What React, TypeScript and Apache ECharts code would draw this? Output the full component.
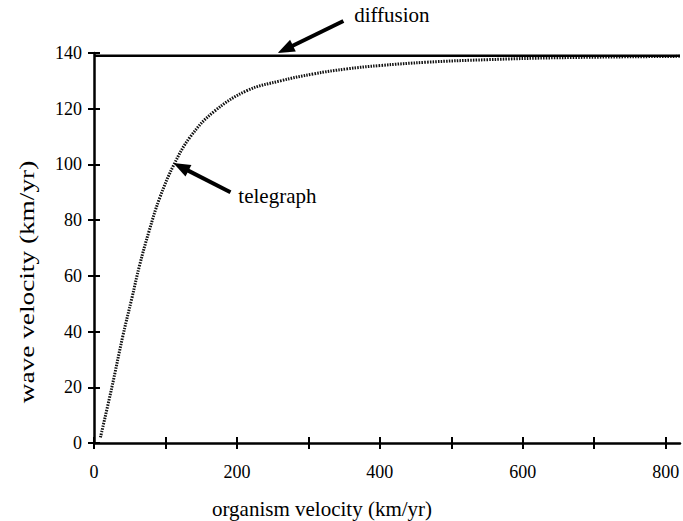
import React, { useEffect, useRef } from "react";
import * as echarts from "echarts";

const xTicks = [0, 100, 200, 300, 400, 500, 600, 700, 800];
const xLabels = [0, 200, 400, 600, 800];
const yTicks = [0, 20, 40, 60, 80, 100, 120, 140];
const diffusionValue = 139;
const telegraphX = [9, 25, 40, 53, 64, 77, 92, 112, 135, 168, 214, 261, 307, 354, 400, 466, 550, 650, 820];
const telegraphY = [2, 20, 38, 52, 64, 76, 88, 100, 110, 119, 126.5, 130, 132.5, 134.3, 135.5, 136.7, 137.6, 138.3, 138.8];
const xMax = 820;
const yMax = 140;

const FONT = "'Liberation Serif', 'Times New Roman', serif";

export default function App() {
  const ref = useRef<HTMLDivElement>(null);
  useEffect(() => {
    if (!ref.current) return;
    const chart = echarts.init(ref.current, null, { renderer: "svg" });
    const telegraph = telegraphX.map((x, i) => [x, telegraphY[i]]);
    const diffusion = [
      [0, diffusionValue],
      [xMax, diffusionValue],
    ];
    const axisLineStyle = { color: "#000", width: 2.5 };
    const tickStyle = { color: "#000", width: 2 };
    chart.setOption({
      animation: false,
      backgroundColor: "#fff",
      grid: { left: 94, right: 3, top: 53, bottom: 78, containLabel: false, outerBoundsMode: "none" },
      xAxis: [
        {
          type: "value",
          min: 0,
          max: xMax,
          position: "bottom",
          axisLine: { show: true, onZero: false, lineStyle: axisLineStyle },
          axisTick: { show: true, length: 6, lineStyle: tickStyle, customValues: xTicks },
          axisLabel: {
            customValues: xLabels,
            fontFamily: FONT,
            fontSize: 18,
            color: "#000",
            margin: 20,
          },
          splitLine: { show: false },
        },
        {
          type: "value",
          min: 0,
          max: xMax,
          position: "bottom",
          axisLine: { show: false, onZero: false },
          axisTick: { show: true, inside: true, length: 6, lineStyle: tickStyle, customValues: xTicks },
          axisLabel: { show: false },
          splitLine: { show: false },
        },
      ],
      yAxis: [
        {
          type: "value",
          min: 0,
          max: yMax,
          interval: 20,
          position: "left",
          axisLine: { show: true, onZero: false, lineStyle: axisLineStyle },
          axisTick: { show: true, length: 6, lineStyle: tickStyle, customValues: yTicks },
          axisLabel: {
            fontFamily: FONT,
            fontSize: 18,
            color: "#000",
            margin: 12,
          },
          splitLine: { show: false },
        },
        {
          type: "value",
          min: 0,
          max: yMax,
          interval: 20,
          position: "left",
          axisLine: { show: false, onZero: false },
          axisTick: { show: true, inside: true, length: 6, lineStyle: tickStyle, customValues: yTicks },
          axisLabel: { show: false },
          splitLine: { show: false },
        },
      ],
      series: [
        {
          name: "diffusion",
          type: "line",
          data: diffusion,
          showSymbol: false,
          lineStyle: { color: "#000", width: 2.5 },
          z: 3,
        },
        {
          name: "telegraph",
          type: "line",
          data: telegraph,
          smooth: 0.4,
          showSymbol: false,
          lineStyle: { color: "#111", width: 3, type: [1.5, 1.2] },
          z: 2,
        },
      ],
    });

    const px = (p: number[]) => chart.convertToPixel({ gridIndex: 0 }, p) as number[];
    const arrow = (tail: number[], head: number[]) => {
      const t = px(tail);
      const h = px(head);
      const dx = h[0] - t[0];
      const dy = h[1] - t[1];
      const len = Math.sqrt(dx * dx + dy * dy);
      const ux = dx / len;
      const uy = dy / len;
      const headLen = 17;
      const half = 6.5;
      const bx = h[0] - ux * headLen;
      const by = h[1] - uy * headLen;
      return [
        {
          type: "line",
          shape: { x1: t[0], y1: t[1], x2: bx + ux * 2, y2: by + uy * 2 },
          style: { stroke: "#000", lineWidth: 4 },
          z: 10,
        },
        {
          type: "polygon",
          shape: {
            points: [
              [h[0], h[1]],
              [bx - uy * half, by + ux * half],
              [bx + uy * half, by - ux * half],
            ],
          },
          style: { fill: "#000" },
          z: 10,
        },
      ];
    };
    const diffTail = [349, 151.5];
    const diffHead = [257, 140];
    const telTail = [191, 90];
    const telHead = [111, 100.5];
    const dt = px([364, 153.5]);
    const tt = px([202, 88.5]);
    chart.setOption({
      graphic: [
        ...arrow(diffTail, diffHead),
        ...arrow(telTail, telHead),
        {
          type: "text",
          x: dt[0],
          y: dt[1],
          style: { text: "diffusion", font: `21px ${FONT}`, fill: "#000", textVerticalAlign: "middle", textAlign: "left" },
        },
        {
          type: "text",
          x: tt[0],
          y: tt[1],
          style: { text: "telegraph", font: `21px ${FONT}`, fill: "#000", textVerticalAlign: "middle", textAlign: "left" },
        },
        {
          type: "text",
          x: 322,
          y: 509,
          style: { text: "organism velocity (km/yr)", font: `21px ${FONT}`, fill: "#000", textAlign: "center", textVerticalAlign: "middle" },
        },
        {
          type: "text",
          x: 27,
          y: 282,
          rotation: Math.PI / 2,
          scaleX: 1.3,
          style: { text: "wave velocity (km/yr)", font: `21px ${FONT}`, fill: "#000", textAlign: "center", textVerticalAlign: "middle" },
        },
      ],
    });
    return () => chart.dispose();
  }, []);
  return <div ref={ref} style={{ position: "fixed", left: 0, top: 0, width: 683, height: 521 }} />;
}
